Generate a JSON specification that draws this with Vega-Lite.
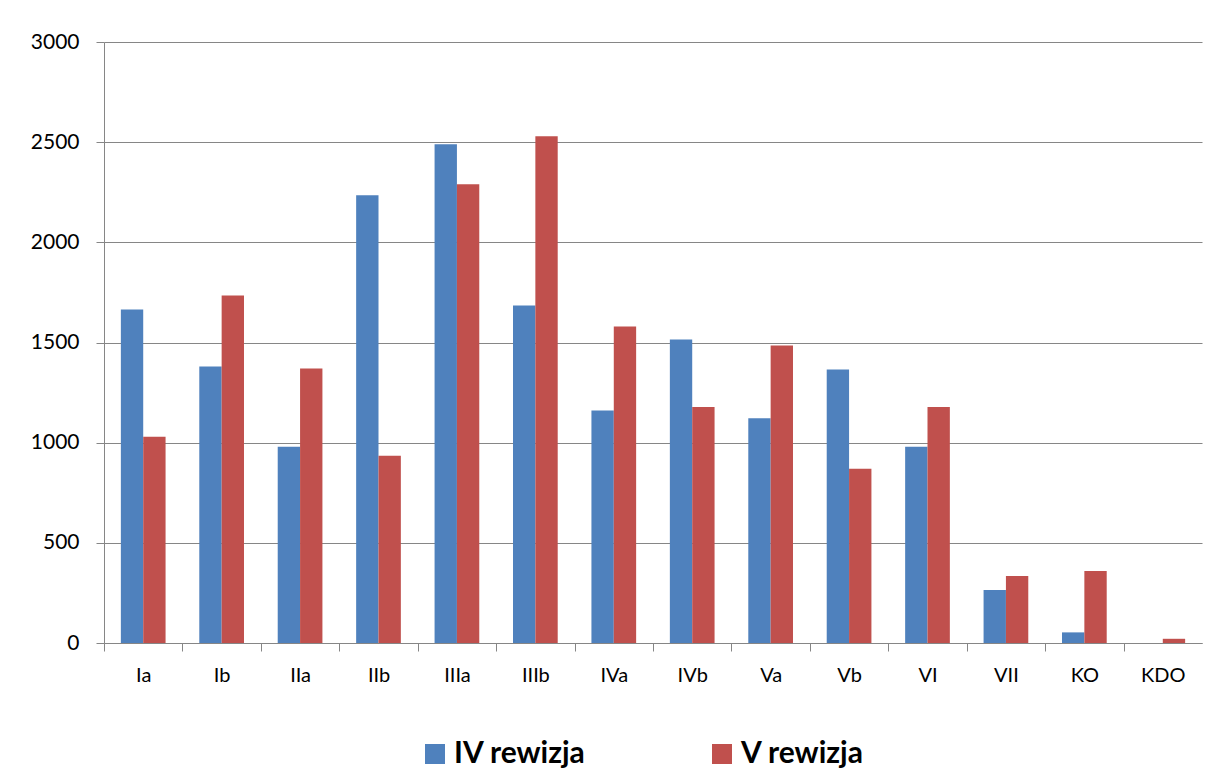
{
  "$schema": "https://vega.github.io/schema/vega-lite/v6.json",
  "width": 1098,
  "height": 601,
  "autosize": {"type": "none"},
  "padding": {"left": 104, "top": 42, "right": 20, "bottom": 137},
  "background": "white",
  "data": {
    "values": [
      {"klasa": "Ia", "rewizja": "IV rewizja", "liczba": 1665},
      {"klasa": "Ia", "rewizja": "V rewizja", "liczba": 1030},
      {"klasa": "Ib", "rewizja": "IV rewizja", "liczba": 1380},
      {"klasa": "Ib", "rewizja": "V rewizja", "liczba": 1735},
      {"klasa": "IIa", "rewizja": "IV rewizja", "liczba": 980},
      {"klasa": "IIa", "rewizja": "V rewizja", "liczba": 1370},
      {"klasa": "IIb", "rewizja": "IV rewizja", "liczba": 2235},
      {"klasa": "IIb", "rewizja": "V rewizja", "liczba": 935},
      {"klasa": "IIIa", "rewizja": "IV rewizja", "liczba": 2490},
      {"klasa": "IIIa", "rewizja": "V rewizja", "liczba": 2290},
      {"klasa": "IIIb", "rewizja": "IV rewizja", "liczba": 1685},
      {"klasa": "IIIb", "rewizja": "V rewizja", "liczba": 2530},
      {"klasa": "IVa", "rewizja": "IV rewizja", "liczba": 1160},
      {"klasa": "IVa", "rewizja": "V rewizja", "liczba": 1580},
      {"klasa": "IVb", "rewizja": "IV rewizja", "liczba": 1515},
      {"klasa": "IVb", "rewizja": "V rewizja", "liczba": 1178},
      {"klasa": "Va", "rewizja": "IV rewizja", "liczba": 1122},
      {"klasa": "Va", "rewizja": "V rewizja", "liczba": 1485},
      {"klasa": "Vb", "rewizja": "IV rewizja", "liczba": 1365},
      {"klasa": "Vb", "rewizja": "V rewizja", "liczba": 870},
      {"klasa": "VI", "rewizja": "IV rewizja", "liczba": 980},
      {"klasa": "VI", "rewizja": "V rewizja", "liczba": 1178},
      {"klasa": "VII", "rewizja": "IV rewizja", "liczba": 265},
      {"klasa": "VII", "rewizja": "V rewizja", "liczba": 335},
      {"klasa": "KO", "rewizja": "IV rewizja", "liczba": 53},
      {"klasa": "KO", "rewizja": "V rewizja", "liczba": 360},
      {"klasa": "KDO", "rewizja": "IV rewizja", "liczba": 0},
      {"klasa": "KDO", "rewizja": "V rewizja", "liczba": 21}
    ]
  },
  "mark": {"type": "bar"},
  "encoding": {
    "x": {
      "field": "klasa",
      "type": "nominal",
      "sort": ["Ia", "Ib", "IIa", "IIb", "IIIa", "IIIb", "IVa", "IVb", "Va", "Vb", "VI", "VII", "KO", "KDO"],
      "scale": {"paddingInner": 0.43, "paddingOuter": 0.215},
      "axis": {
        "title": null,
        "labelAngle": 0,
        "labelFont": "Lato",
        "labelFontSize": 20,
        "labelColor": "#000000",
        "tickBand": "center",
        "tickOffset": -39.2,
        "labelOffset": 39.2,
        "tickSize": 8,
        "tickColor": "#868686",
        "domainColor": "#868686",
        "labelPadding": 14
      }
    },
    "xOffset": {
      "field": "rewizja",
      "type": "nominal",
      "sort": ["IV rewizja", "V rewizja"],
      "scale": {"paddingInner": 0, "paddingOuter": 0}
    },
    "y": {
      "field": "liczba",
      "type": "quantitative",
      "scale": {"domain": [0, 3000], "nice": false},
      "axis": {
        "title": null,
        "values": [0, 500, 1000, 1500, 2000, 2500, 3000],
        "format": "d",
        "grid": true,
        "gridColor": "#868686",
        "domainColor": "#868686",
        "tickColor": "#868686",
        "tickSize": 8,
        "labelFont": "Lato",
        "labelFontSize": 21,
        "labelColor": "#000000",
        "labelPadding": 17
      }
    },
    "color": {
      "field": "rewizja",
      "type": "nominal",
      "scale": {"domain": ["IV rewizja", "V rewizja"], "range": ["#4F81BD", "#C0504D"]},
      "legend": {
        "orient": "none",
        "legendX": 316,
        "legendY": 697,
        "direction": "horizontal",
        "title": null,
        "symbolType": "square",
        "symbolSize": 400,
        "symbolStrokeWidth": 0,
        "symbolOpacity": 1,
        "labelFont": "Lato",
        "labelFontSize": 30,
        "labelFontWeight": "bold",
        "labelColor": "#000000",
        "columnPadding": 121,
        "padding": 0
      }
    }
  },
  "config": {"view": {"stroke": null}}
}
